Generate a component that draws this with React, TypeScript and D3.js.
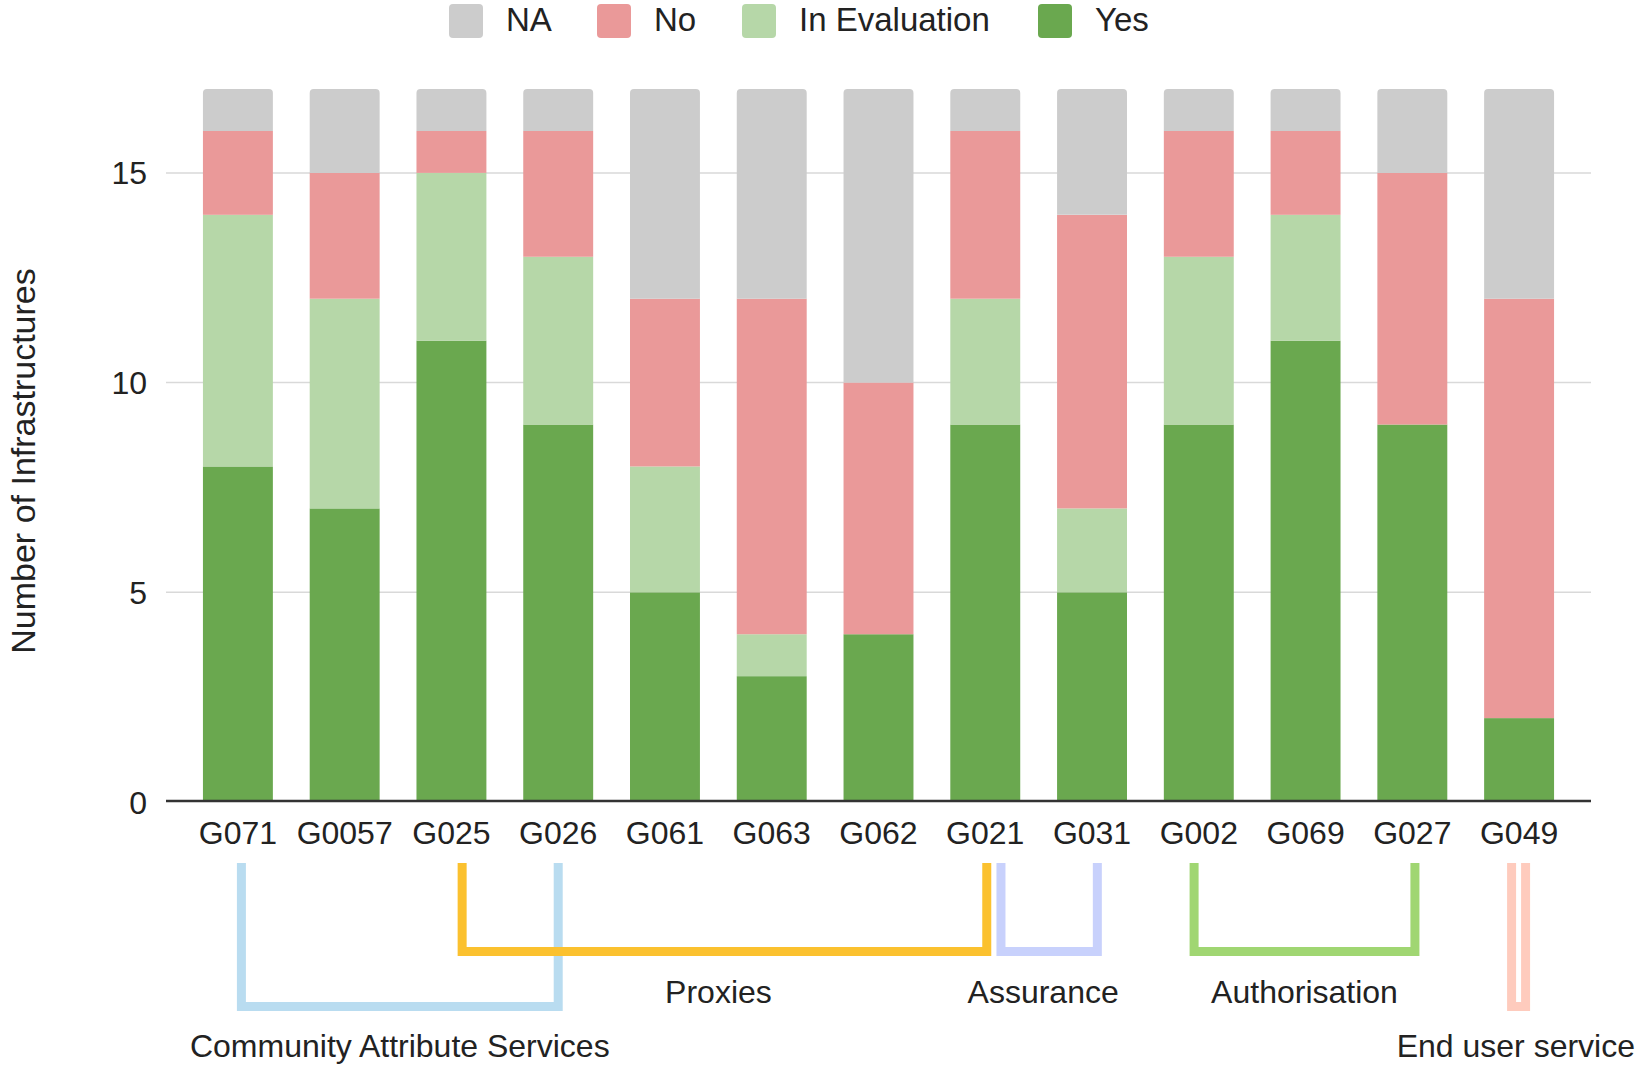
import React from "react";
import * as d3 from "d3";

// ---- data ----
const categories = ["G071", "G0057", "G025", "G026", "G061", "G063", "G062", "G021", "G031", "G002", "G069", "G027", "G049"];
const seriesNames = ["Yes", "In Evaluation", "No", "NA"];
const yesValues = [8, 7, 11, 9, 5, 3, 4, 9, 5, 9, 11, 9, 2];
const evalValues = [6, 5, 4, 4, 3, 1, 0, 3, 2, 4, 3, 0, 0];
const noValues = [2, 3, 1, 3, 4, 8, 6, 4, 7, 3, 2, 6, 10];
const naValues = [1, 2, 1, 1, 5, 5, 7, 1, 3, 1, 1, 2, 5];
const yTicks = [0, 5, 10, 15];
const legendOrder = ["NA", "No", "In Evaluation", "Yes"];

const groupNames = ["Community Attribute Services", "Proxies", "Assurance", "Authorisation", "End user service"];
const groupFrom = ["G071", "G025", "G021", "G002", "G049"];
const groupTo = ["G026", "G021", "G031", "G027", "G049"];

// ---- styles / layout ----
const W = 1638;
const H = 1067;
const FONT = "'Liberation Sans', Arial, Helvetica, sans-serif";
const colors: Record<string, string> = {
  NA: "#cccccc",
  No: "#ea9999",
  "In Evaluation": "#b6d7a8",
  Yes: "#6aa84f",
};
const groupColors = ["#b9dcf0", "#fbc12f", "#c8d1fc", "#a0d672", "#fecbbd"];
const groupDepth = [1006.5, 951.5, 951.5, 951.5, 1006.5];
const groupNudgeL = [3.5, 10.7, 15.7, -4.7, -7.5];
const groupNudgeR = [0, 1.5, 5.3, 2.6, 6.5];
const labelY = [1057, 1003, 1003, 1003, 1057];
const labelNudge = [0, -6, -6, 0, 0];
const legendX = [449, 597, 742, 1038];

const left = 166;
const right = 1591;
const top = 89;
const bottom = 802;

export default function App() {
  const x = d3.scaleBand<string>().domain(categories).range([left, right]).paddingInner(0.345).paddingOuter(0.346);
  const y = d3.scaleLinear().domain([0, 17]).range([bottom, top]);

  const rows = categories.map((c, i) => ({
    cat: c,
    Yes: yesValues[i],
    "In Evaluation": evalValues[i],
    No: noValues[i],
    NA: naValues[i],
  }));
  const stack = d3.stack<any>().keys(seriesNames);
  const series = stack(rows);
  const bw = x.bandwidth();
  const r = 4;

  const center = (c: string) => (x(c) as number) + bw / 2;

  return (
    <svg
      width={W}
      height={H}
      viewBox={`0 0 ${W} ${H}`}
      style={{ position: "absolute", left: 0, top: 0, background: "#fff", fontFamily: FONT }}
    >
      <rect x={0} y={0} width={W} height={H} fill="#fff" />
      {/* legend */}
      {legendOrder.map((k, i) => (
        <g key={k}>
          <rect x={legendX[i]} y={4} width={34} height={34} rx={4} fill={colors[k]} />
          <text x={legendX[i] + 57} y={31} fontSize={33} fill="#222">
            {k}
          </text>
        </g>
      ))}
      {/* gridlines */}
      {yTicks.map((t) => (
        <g key={t}>
          {t > 0 && <line x1={left} x2={right} y1={y(t)} y2={y(t)} stroke="#d9d9d9" strokeWidth={1.5} />}
          <text x={147} y={y(t)} dy="0.36em" textAnchor="end" fontSize={32} fill="#222">
            {t}
          </text>
        </g>
      ))}
      {/* bars */}
      {series.map((s) => (
        <g key={s.key} fill={colors[s.key]}>
          {s.map((d, i) => {
            const h = y(d[0]) - y(d[1]);
            if (h <= 0) return null;
            const x0 = x(categories[i]) as number;
            if (s.key === "NA") {
              const yt = y(d[1]);
              const yb = y(d[0]);
              const p = `M${x0},${yb}V${yt + r}Q${x0},${yt} ${x0 + r},${yt}H${x0 + bw - r}Q${x0 + bw},${yt} ${x0 + bw},${yt + r}V${yb}Z`;
              return <path key={i} d={p} />;
            }
            return <rect key={i} x={x0} y={y(d[1])} width={bw} height={h} />;
          })}
        </g>
      ))}
      {/* x axis */}
      <line x1={left} x2={right} y1={801} y2={801} stroke="#333" strokeWidth={2.5} />
      {categories.map((c) => (
        <text key={c} x={center(c)} y={844} textAnchor="middle" fontSize={32} fill="#222">
          {c}
        </text>
      ))}
      {/* y axis title */}
      <text transform={`translate(35,461) rotate(-90)`} textAnchor="middle" fontSize={34} fill="#222">
        Number of Infrastructures
      </text>
      {/* group brackets */}
      {groupNames.map((g, i) => {
        const xl = center(groupFrom[i]) + groupNudgeL[i];
        const xr = center(groupTo[i]) + groupNudgeR[i];
        const yb = groupDepth[i];
        return (
          <path
            key={g}
            d={`M${xl},863V${yb}H${xr}V863`}
            fill="none"
            stroke={groupColors[i]}
            strokeWidth={9}
            strokeLinejoin="miter"
          />
        );
      })}
      {groupNames.map((g, i) => {
        const xl = center(groupFrom[i]) + groupNudgeL[i];
        const xr = center(groupTo[i]) + groupNudgeR[i];
        const isLast = i === groupNames.length - 1;
        return (
          <text
            key={g + "l"}
            x={isLast ? W - 3 : (xl + xr) / 2 + labelNudge[i]}
            y={labelY[i]}
            textAnchor={isLast ? "end" : "middle"}
            fontSize={32}
            fill="#222"
          >
            {g}
          </text>
        );
      })}
    </svg>
  );
}
